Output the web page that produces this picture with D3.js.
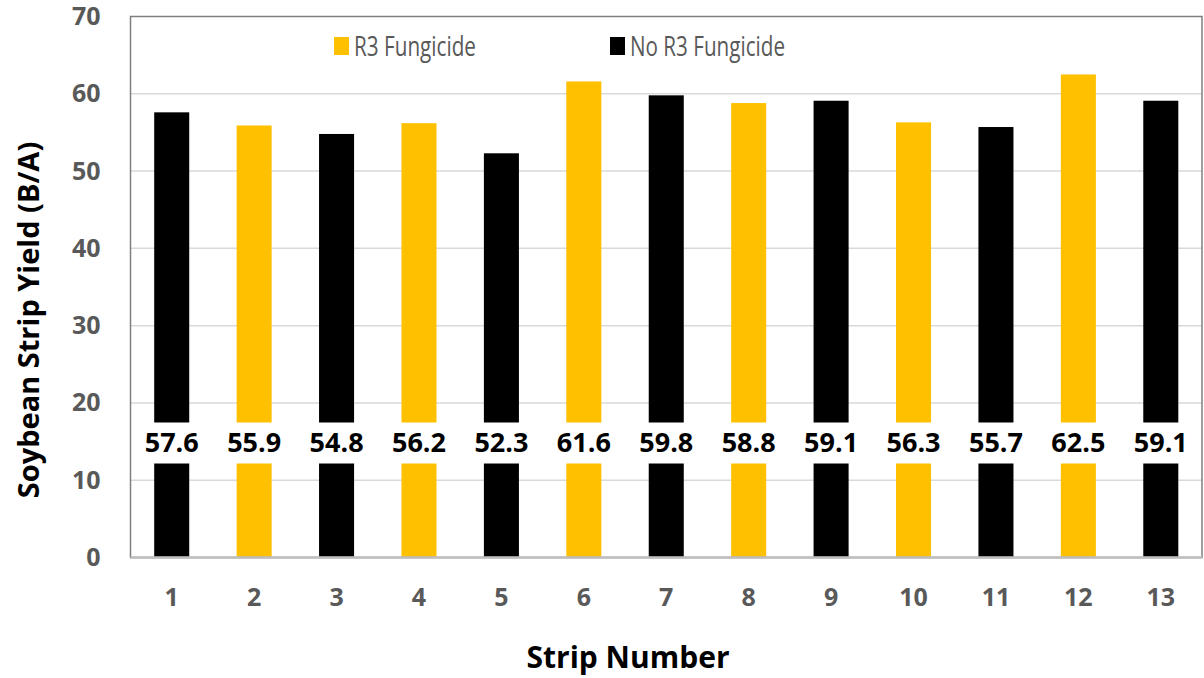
<!DOCTYPE html>
<html>
<head>
<meta charset="utf-8">
<script src="https://cdn.jsdelivr.net/npm/d3@7"></script>
<style>
  body { margin: 0; background: #fff; }
  svg { display: block; font-family: "Open Sans", sans-serif; }
</style>
</head>
<body>
<svg id="canvas" width="1204" height="678"></svg>
<script>
  // Strip labels, yields and treatment for each strip
  var STRIPS = ['1', '2', '3', '4', '5', '6', '7', '8', '9', '10', '11', '12', '13'];
  var YIELDS = [57.6, 55.9, 54.8, 56.2, 52.3, 61.6, 59.8, 58.8, 59.1, 56.3, 55.7, 62.5, 59.1];
  var TREATMENT = ['No R3 Fungicide', 'R3 Fungicide', 'No R3 Fungicide', 'R3 Fungicide',
    'No R3 Fungicide', 'R3 Fungicide', 'No R3 Fungicide', 'R3 Fungicide', 'No R3 Fungicide',
    'R3 Fungicide', 'No R3 Fungicide', 'R3 Fungicide', 'No R3 Fungicide'];
  var SERIES = ['R3 Fungicide', 'No R3 Fungicide'];
  var Y_TICKS = [0, 10, 20, 30, 40, 50, 60, 70];

  var margin = { top: 16.5, right: 2, bottom: 120.5, left: 130.5 };
  var width = 1204, height = 678;
  var innerW = width - margin.left - margin.right;
  var innerH = height - margin.top - margin.bottom;

  var svg = d3.select('#canvas');
  var g = svg.append('g')
    .attr('transform', 'translate(' + margin.left + ',' + margin.top + ')');

  var x = d3.scaleBand()
    .domain(STRIPS)
    .range([0, innerW])
    .paddingInner(0.575)
    .paddingOuter(0.2875);

  var y = d3.scaleLinear()
    .domain([0, 70])
    .range([innerH, 0]);

  var color = d3.scaleOrdinal()
    .domain(SERIES)
    .range(['#ffc000', '#000000']);

  // Gridlines
  g.append('g')
    .selectAll('line')
    .data(Y_TICKS.slice(1, -1))
    .enter()
    .append('line')
    .attr('x1', 0)
    .attr('x2', innerW)
    .attr('y1', function (d) { return y(d); })
    .attr('y2', function (d) { return y(d); })
    .attr('stroke', '#d9d9d9')
    .attr('stroke-width', 1.5);

  // Bars
  var data = STRIPS.map(function (s, i) {
    return { strip: s, value: YIELDS[i], series: TREATMENT[i] };
  });

  g.append('g')
    .selectAll('rect')
    .data(data)
    .enter()
    .append('rect')
    .attr('x', function (d) { return x(d.strip); })
    .attr('y', function (d) { return y(d.value); })
    .attr('width', x.bandwidth())
    .attr('height', function (d) { return innerH - y(d.value); })
    .attr('fill', function (d) { return color(d.series); });

  // Value labels with white backing
  var labelY = innerH - 115;
  var labels = g.append('g')
    .selectAll('g')
    .data(data)
    .enter()
    .append('g')
    .attr('transform', function (d) {
      return 'translate(' + (x(d.strip) + x.bandwidth() / 2) + ',' + labelY + ')';
    });

  labels.append('rect')
    .attr('x', -x.bandwidth() / 2 - 1)
    .attr('y', -20)
    .attr('width', x.bandwidth() + 2)
    .attr('height', 41)
    .attr('fill', '#fff');

  labels.append('text')
    .attr('text-anchor', 'middle')
    .attr('dy', '0.36em')
    .attr('font-size', 27)
    .attr('font-weight', 'bold')
    .attr('fill', '#000')
    .text(function (d) { return d3.format('.1f')(d.value); });

  // Plot frame
  g.append('rect')
    .attr('x', 0)
    .attr('y', 0)
    .attr('width', innerW)
    .attr('height', innerH)
    .attr('fill', 'none')
    .attr('stroke', '#7f7f7f')
    .attr('stroke-width', 1.5);

  g.append('line')
    .attr('x1', 0)
    .attr('x2', innerW)
    .attr('y1', innerH)
    .attr('y2', innerH)
    .attr('stroke', '#bfbfbf')
    .attr('stroke-width', 2.5);

  // Y axis
  var yAxis = d3.axisLeft(y).tickValues(Y_TICKS).tickSize(0).tickPadding(30);
  g.append('g')
    .call(yAxis)
    .call(function (sel) { sel.select('.domain').remove(); })
    .selectAll('text')
    .attr('font-family', '"Open Sans", sans-serif')
    .attr('font-size', 25)
    .attr('font-weight', 'bold')
    .attr('fill', '#595959');

  // X axis
  var xAxis = d3.axisBottom(x).tickSize(0).tickPadding(31);
  g.append('g')
    .attr('transform', 'translate(0,' + innerH + ')')
    .call(xAxis)
    .call(function (sel) { sel.select('.domain').remove(); })
    .selectAll('text')
    .attr('font-family', '"Open Sans", sans-serif')
    .attr('font-size', 25)
    .attr('font-weight', 'bold')
    .attr('fill', '#595959');

  // Axis titles
  svg.append('text')
    .attr('x', 628)
    .attr('y', 668)
    .attr('text-anchor', 'middle')
    .attr('font-size', 30)
    .attr('font-weight', 'bold')
    .attr('fill', '#000')
    .text('Strip Number');

  svg.append('text')
    .attr('transform', 'translate(39,320) rotate(-90)')
    .attr('text-anchor', 'middle')
    .attr('font-size', 29)
    .attr('font-weight', 'bold')
    .attr('fill', '#000')
    .text('Soybean Strip Yield (B/A)');

  // Legend
  var legendX = [334, 610];
  var legendW = [122, 155];
  var legend = svg.append('g')
    .selectAll('g')
    .data(SERIES)
    .enter()
    .append('g')
    .attr('transform', function (d, i) { return 'translate(' + legendX[i] + ',37)'; });

  legend.append('rect')
    .attr('width', 15)
    .attr('height', 18)
    .attr('fill', function (d) { return color(d); });

  legend.append('text')
    .attr('x', 20)
    .attr('y', 9)
    .attr('dy', '0.36em')
    .attr('font-size', 27)
    .attr('fill', '#595959')
    .attr('textLength', function (d, i) { return legendW[i]; })
    .attr('lengthAdjust', 'spacingAndGlyphs')
    .text(function (d) { return d; });
</script>
</body>
</html>
